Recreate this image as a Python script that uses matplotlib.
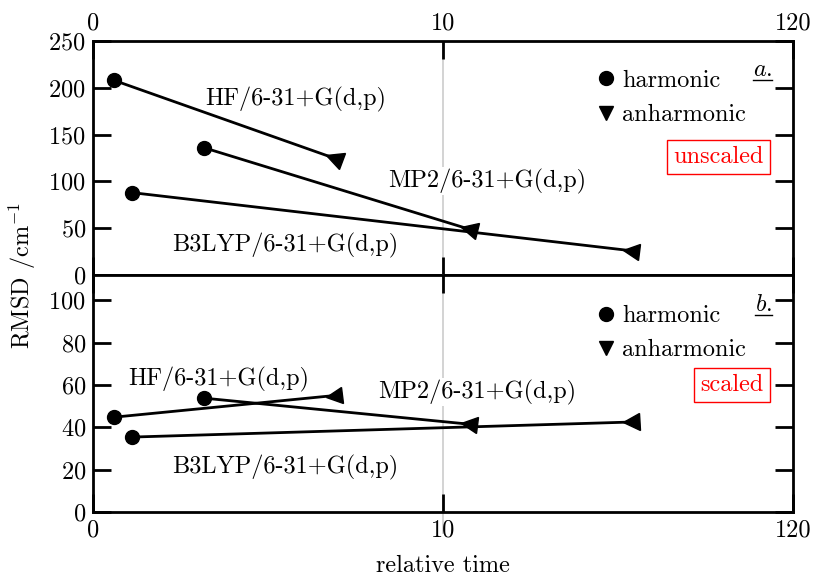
import numpy as np
import matplotlib
matplotlib.use("Agg")
import matplotlib.pyplot as plt
from matplotlib.markers import MarkerStyle
from matplotlib.transforms import Affine2D
from matplotlib.lines import Line2D

plt.rcParams['font.family'] = 'serif'
plt.rcParams['font.serif'] = ['cmr10']
plt.rcParams['mathtext.fontset'] = 'cm'
plt.rcParams['axes.unicode_minus'] = False
plt.rcParams['axes.formatter.use_mathtext'] = True

FS = 17.5

methods = ['HF/6-31+G(d,p)', 'MP2/6-31+G(d,p)', 'B3LYP/6-31+G(d,p)']

# relative time (harmonic, anharmonic) for each method
time_harm = [0.6, 3.17, 1.12]
time_anh = [6.88, 18.2, 69.0]

# RMSD in cm^-1
unscaled_harm = [208, 136, 88]
unscaled_anh = [125, 49, 26]
scaled_harm = [44.8, 53.8, 35.4]
scaled_anh = [55.0, 41.5, 42.5]

# label positions (data coords) for each method, per panel
label_top = [(5.8, 188), (23.8, 100), (5.5, 32)]
label_bot = [(3.6, 62.5), (20.7, 56.5), (5.5, 21)]

xticks = [0, 10, 120]


def fwd(x):
    x = np.asarray(x, dtype=float)
    return np.where(x <= 10, x, 10 + (x - 10) / 11.0)


def inv(y):
    y = np.asarray(y, dtype=float)
    return np.where(y <= 10, y, 10 + (y - 10) * 11.0)


fig = plt.figure(figsize=(8.15, 5.77), dpi=100)
ax1 = fig.add_axes([0.1141, 0.5234, 0.8589, 0.4055])
ax2 = fig.add_axes([0.1141, 0.1127, 0.8589, 0.4107])

for ax, ymax, yt in [(ax1, 250, np.arange(0, 251, 50)), (ax2, 112, np.arange(0, 101, 20))]:
    ax.set_xscale('function', functions=(fwd, inv))
    ax.set_xlim(0, 120)
    ax.set_ylim(0, ymax)
    ax.set_xticks(xticks)
    ax.set_yticks(yt)
    ax.tick_params(direction='in', length=13, width=2, labelsize=FS,
                   top=True, bottom=True, left=True, right=True, pad=5)
    for s in ax.spines.values():
        s.set_linewidth(2)
    ax.set_xticklabels([str(t) for t in xticks])

ax1.tick_params(labeltop=True, labelbottom=False)
ax2.tick_params(labeltop=False, labelbottom=True)

ax1.axvline(10, color='#cccccc', lw=1.2, zorder=0.5)
ax2.axvline(10, color='#cccccc', lw=1.2, zorder=0.5, ymin=-0.09, ymax=1, clip_on=False)


def draw_panel(ax, harm, anh, labels):
    for i in range(len(methods)):
        ax.plot([time_harm[i], time_anh[i]], [harm[i], anh[i]], color='k', lw=2, zorder=3)
        ax.plot(time_harm[i], harm[i], 'o', color='k', ms=10, zorder=4)
        p0 = ax.transData.transform((time_harm[i], harm[i]))
        p1 = ax.transData.transform((time_anh[i], anh[i]))
        ang = np.degrees(np.arctan2(p1[1] - p0[1], p1[0] - p0[0]))
        m = MarkerStyle('<', transform=Affine2D().rotate_deg(ang))
        ax.plot(time_anh[i], anh[i], marker=m, ls='none', color='k', ms=12, zorder=4)
        lx, ly = labels[i]
        ax.text(lx, ly, methods[i], fontsize=FS, ha='center', va='center', zorder=2,
                bbox=dict(fc='white', ec='none', pad=1))


draw_panel(ax1, unscaled_harm, unscaled_anh, label_top)
draw_panel(ax2, scaled_harm, scaled_anh, label_bot)

handles = [Line2D([], [], marker='o', ls='none', color='k', ms=10),
           Line2D([], [], marker='v', ls='none', color='k', ms=10)]
for ax, anchor in [(ax1, (0.695, 0.95)), (ax2, (0.695, 0.945))]:
    ax.legend(handles, ['harmonic', 'anharmonic'], loc='upper left', bbox_to_anchor=anchor,
              frameon=False, fontsize=FS, handlelength=0.8, handletextpad=0.25,
              labelspacing=0.5, borderaxespad=0.3)

ax1.text(0.958, 0.505, 'unscaled', transform=ax1.transAxes, color='red', fontsize=FS,
         ha='right', va='center', bbox=dict(boxstyle='square,pad=0.25', fc='white', ec='red', lw=1))
ax2.text(0.958, 0.535, 'scaled', transform=ax2.transAxes, color='red', fontsize=FS,
         ha='right', va='center', bbox=dict(boxstyle='square,pad=0.25', fc='white', ec='red', lw=1))

# panel tags with underline
fig.canvas.draw()
renderer = fig.canvas.get_renderer()
for ax, tag, ty in [(ax1, '$a.$', 0.85), (ax2, '$b.$', 0.848)]:
    t = ax.text(0.97, ty, tag, transform=ax.transAxes, fontsize=FS, ha='right', va='baseline')
    bb = t.get_window_extent(renderer)
    y = bb.y0 + 1
    fig.add_artist(Line2D([bb.x0 / fig.bbox.width, bb.x1 / fig.bbox.width],
                          [y / fig.bbox.height, y / fig.bbox.height], color='k', lw=1))

fig.text(0.027, 0.523, 'RMSD /cm$^{\\mathrm{-1}}$', rotation=90, fontsize=FS, ha='center', va='center')
fig.text(0.544, 0.02, 'relative time', fontsize=FS, ha='center', va='center')

fig.savefig('out.png', dpi=100)
